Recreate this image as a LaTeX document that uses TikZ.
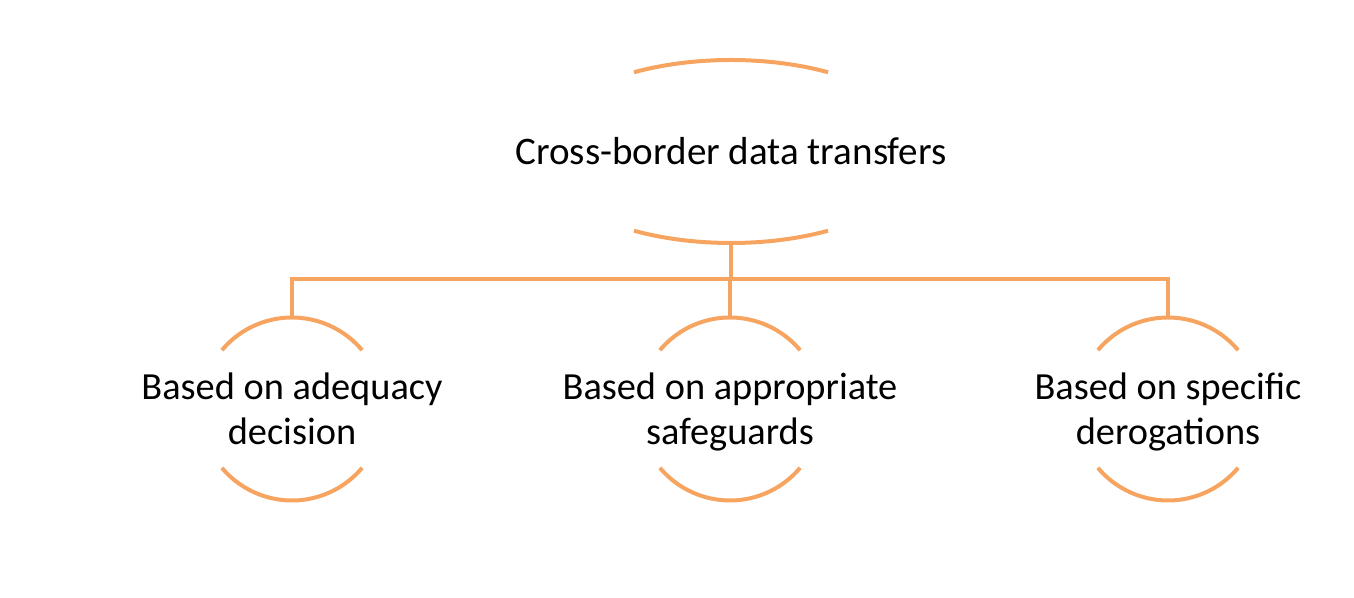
\documentclass[tikz,border=0pt]{standalone}
\usepackage{fontspec}
\setmainfont{Carlito}
\usetikzlibrary{shapes.geometric}
\definecolor{arcorange}{RGB}{246,164,96}
\begin{document}
\begin{tikzpicture}[x=1bp,y=1bp,
  lbl/.style={align=center,font=\fontsize{38.5}{45}\selectfont,text=black,inner sep=0pt,yshift=-4bp},
  topshape/.style={ellipse,draw=none,minimum width=388bp,minimum height=183bp,inner sep=0pt},
  childshape/.style={circle,draw=none,minimum size=183bp,inner sep=0pt},
  arcline/.style={draw=arcorange,line width=4bp},
  conn/.style={draw=arcorange,line width=4bp}]
\useasboundingbox (0,0) rectangle (1354,598);
\node[topshape] (top) at (731,446.5) {};
\node[childshape] (c1) at (292,189) {};
\node[childshape] (c2) at (730,189) {};
\node[childshape] (c3) at (1168,189) {};
\node[lbl,font=\fontsize{39.2}{45}\selectfont] (t0) at (top.center) {\strut Cross-border data transfers};
\node[lbl] (t1) at (c1.center) {\strut Based on adequacy\\\strut decision};
\node[lbl] (t2) at (c2.center) {\strut Based on appropriate\\\strut safeguards};
\node[lbl] (t3) at (c3.center) {\strut Based on specific\\\strut derogations};
% arcs of the top shape
\draw[arcline] ([shift={(60:194 and 91.5)}]top.center) arc[start angle=60,end angle=120,x radius=194,y radius=91.5];
\draw[arcline] ([shift={(240:194 and 91.5)}]top.center) arc[start angle=240,end angle=300,x radius=194,y radius=91.5];
% arcs of the children
\foreach \c in {c1,c2,c3}{
  \draw[arcline] ([shift={(40:91.5)}]\c.center) arc[start angle=40,end angle=140,radius=91.5];
  \draw[arcline] ([shift={(220:91.5)}]\c.center) arc[start angle=220,end angle=320,radius=91.5];
}
\coordinate (bus) at (731,319);
\draw[conn] (top.south) -- (bus);
\draw[conn] (c1.north) -- (c1.north |- bus) -- (c3.north |- bus) -- (c3.north);
\draw[conn] (c2.north) -- (c2.north |- bus);
\end{tikzpicture}
\end{document}
